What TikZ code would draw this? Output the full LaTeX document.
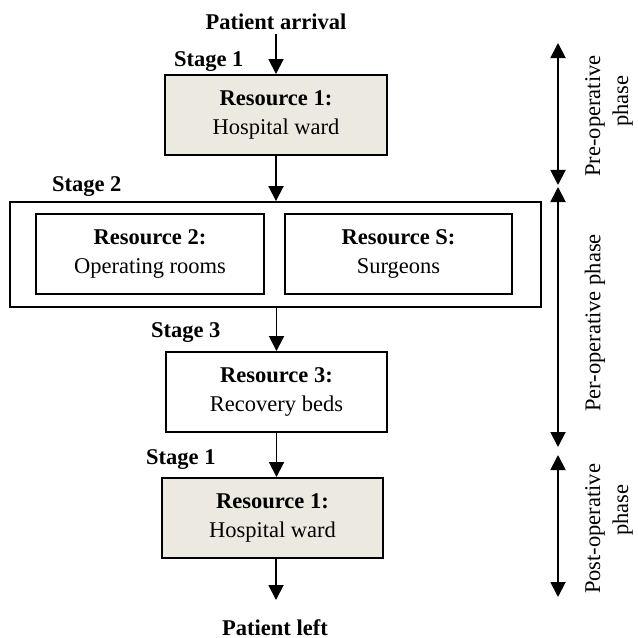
\documentclass[tikz,border=0pt]{standalone}
\usepackage{fontspec}
\setmainfont{Liberation Serif}
\usetikzlibrary{arrows.meta}
\definecolor{wardfill}{RGB}{236,234,224}

\begin{document}
\begin{tikzpicture}[x=0.5333pt,y=-0.5333pt,
	font=\fontsize{12}{15.5}\selectfont,
	res/.style={rectangle,draw,line width=1pt,align=center,inner sep=0pt,minimum height=42.7pt},
	ward/.style={res,fill=wardfill},
	lbl/.style={inner sep=2pt,font=\fontsize{12}{14.5}\selectfont\bfseries},
	phs/.style={rotate=90,align=center,inner sep=0pt,font=\fontsize{12}{15}\selectfont},
	flow/.style={-{Triangle[length=8pt,width=8pt]},line width=1pt},
	phasearrow/.style={{Triangle[length=8pt,width=8pt]}-{Triangle[length=8pt,width=8pt]},line width=1pt}]
	\useasboundingbox (0,0) rectangle (637,638);
	% flow of the patient
	\node (arrival) at (276,22) [lbl] {Patient arrival};
	\node (st1a) at (170,62) [lbl,anchor=west] {Stage 1};
	\node (ward1) at (276,115) [ward,minimum width=118.4pt] {\textbf{Resource 1:}\\Hospital ward};
	\node (st2) at (48,187) [lbl,anchor=west] {Stage 2};
	\node (stage2) at (275.5,254.5) [res,minimum width=283.2pt,minimum height=56pt] {};
	\node (rooms) at (150,254) [res,minimum width=121.6pt] {\textbf{Resource 2:}\\Operating rooms};
	\node (surgeons) at (398.5,254) [res,minimum width=121pt] {\textbf{Resource S:}\\Surgeons};
	\node (st3) at (147,333) [lbl,anchor=west] {Stage 3};
	\node (beds) at (276.5,392) [res,minimum width=117.9pt] {\textbf{Resource 3:}\\Recovery beds};
	\node (st1b) at (142,460) [lbl,anchor=west] {Stage 1};
	\node (ward2) at (272.5,518) [ward,minimum width=117.9pt] {\textbf{Resource 1:}\\Hospital ward};
	\coordinate (exit) at (276,600);
	\node (left) at (275,628) [lbl] {Patient left};
	\draw[flow] (arrival) -- (ward1);
	\draw[flow] (ward1) -- (ward1 |- stage2.north);
	\draw[flow] (stage2.south -| beds) -- (beds);
	\draw[flow] (beds) -- (beds |- ward2.north);
	\draw[flow] (ward2.south -| exit) -- (exit);
	% phases
	\coordinate (pretop) at (558,43);
	\coordinate (prebot) at (558,185);
	\coordinate (pertop) at (558,187);
	\coordinate (perbot) at (558,447);
	\coordinate (posttop) at (558,455);
	\coordinate (postbot) at (558,597);
	\draw[phasearrow] (pretop) -- (prebot);
	\draw[phasearrow] (pertop) -- (perbot);
	\draw[phasearrow] (posttop) -- (postbot);
	\node (pre) at (609,116) [phs] {Pre-operative\\\hspace*{16pt}phase};
	\node (per) at (595,323) [phs] {Per-operative phase};
	\node (post) at (609,529) [phs] {Post-operative\\\hspace*{20pt}phase};
\end{tikzpicture}
\end{document}
